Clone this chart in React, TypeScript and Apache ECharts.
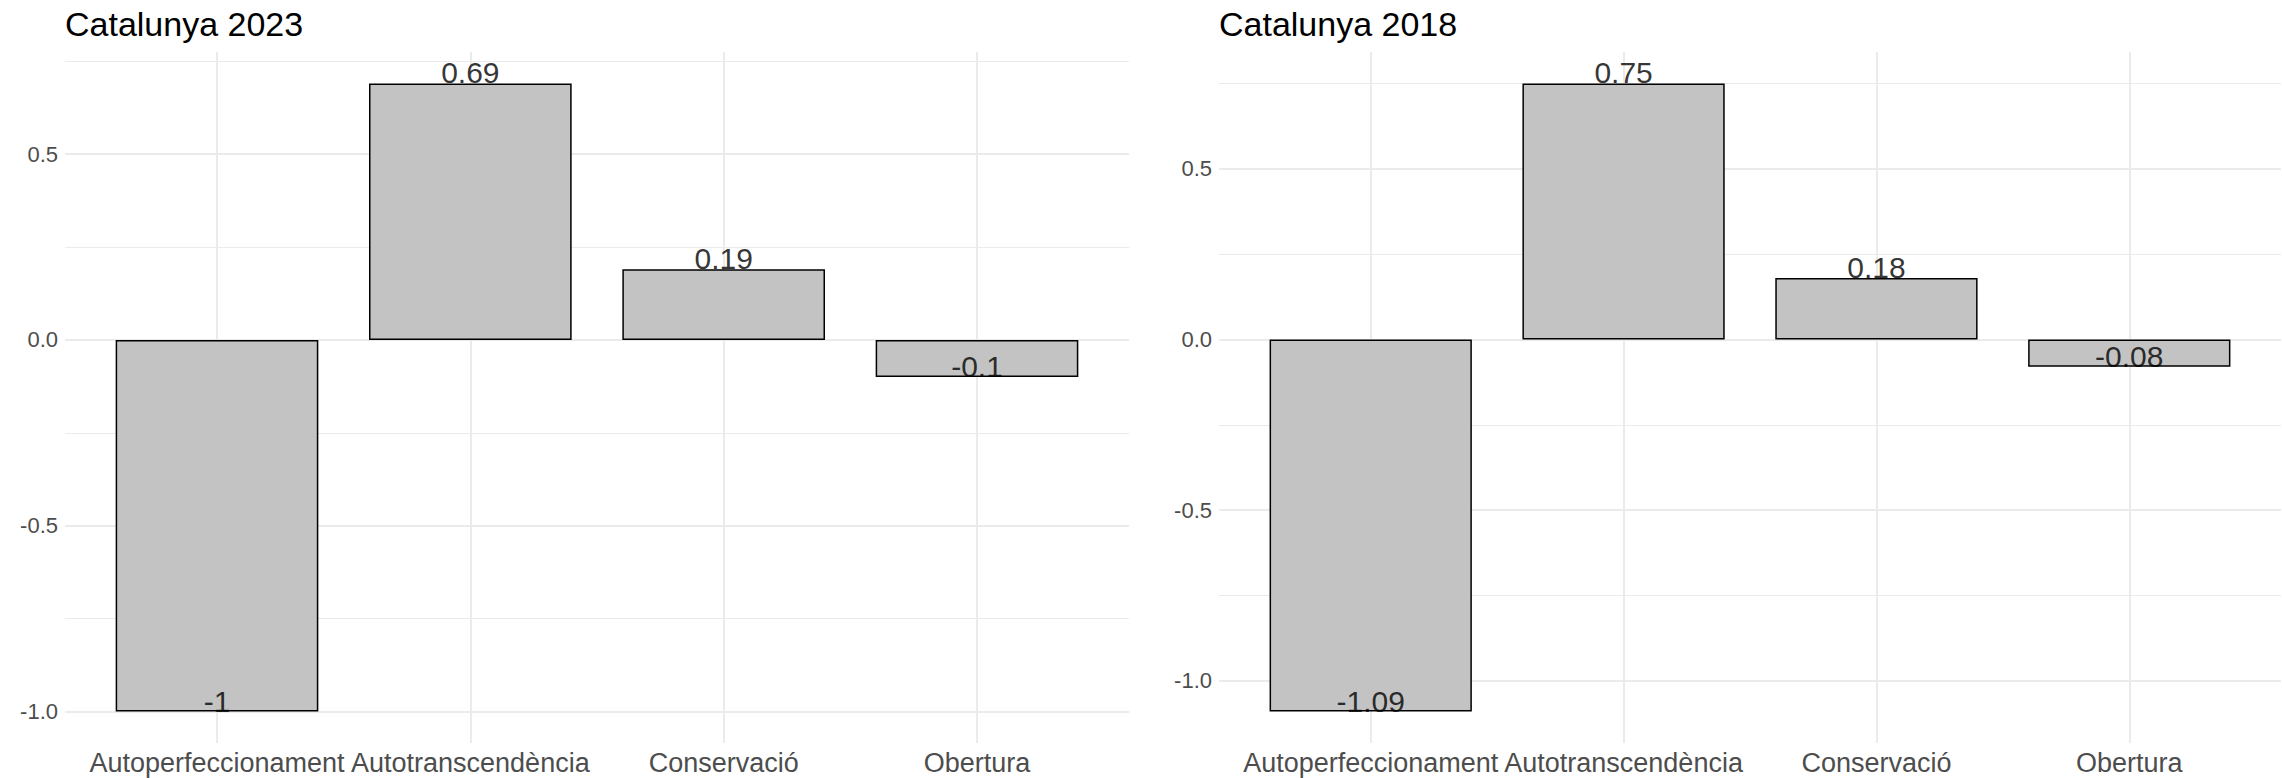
import React, { useEffect, useRef } from "react";
import * as echarts from "echarts";

const categories = ["Autoperfeccionament", "Autotranscendència", "Conservació", "Obertura"];
const values2023 = [-1, 0.69, 0.19, -0.1];
const values2018 = [-1.09, 0.75, 0.18, -0.08];
const panelTitles = ["Catalunya 2023", "Catalunya 2018"];

const FONT = "Liberation Sans, Arial, sans-serif";

function yLimits(vals: number[]) {
  const lo = Math.min(0, ...vals);
  const hi = Math.max(0, ...vals);
  const pad = (hi - lo) * 0.05;
  return [lo - pad, hi + pad];
}

export default function App() {
  const ref = useRef<HTMLDivElement>(null);
  useEffect(() => {
    if (!ref.current) return;
    const chart = echarts.init(ref.current, undefined, { renderer: "svg" });
    const panels = [values2023, values2018];
    const grids = [
      { left: 65, top: 52, width: 1064, height: 691 },
      { left: 1219, top: 52, width: 1062, height: 691 },
    ];
    const xAxis: any[] = [];
    const yAxis: any[] = [];
    const series: any[] = [];
    const title: any[] = [];
    panels.forEach((vals, i) => {
      const [ymin, ymax] = yLimits(vals);
      title.push({
        text: panelTitles[i],
        left: grids[i].left,
        top: 7,
        padding: 0,
        textStyle: { fontFamily: FONT, fontSize: 34, fontWeight: "normal", color: "#000" },
      });
      xAxis.push({
        type: "value",
        gridIndex: i,
        min: -0.6,
        max: categories.length - 1 + 0.6,
        splitNumber: 4,
        axisLine: { show: false },
        axisTick: { show: false },
        axisLabel: {
          showMinLabel: false,
          showMaxLabel: false,
          margin: 6,
          fontFamily: FONT,
          fontSize: 27,
          color: "#4d4d4d",
          formatter: (v: number) => (Number.isInteger(v) && categories[v] !== undefined ? categories[v] : ""),
        },
        splitLine: { show: true, showMinLine: false, showMaxLine: false, lineStyle: { color: "#ebebeb", width: 2 } },
      });
      yAxis.push({
        type: "value",
        gridIndex: i,
        min: ymin,
        max: ymax,
        splitNumber: 4,
        axisLine: { show: false },
        axisTick: { show: false },
        minorTick: { show: false, splitNumber: 2 },
        minorSplitLine: { show: true, lineStyle: { color: "#ebebeb", width: 1 } },
        axisLabel: {
          showMinLabel: false,
          showMaxLabel: false,
          margin: 7,
          fontFamily: FONT,
          fontSize: 22,
          color: "#4d4d4d",
          formatter: (v: number) => v.toFixed(1),
        },
        splitLine: { show: true, showMinLine: false, showMaxLine: false, lineStyle: { color: "#ebebeb", width: 2 } },
      });
      const data = vals.map((v, k) => [k, v]);
      series.push({
        type: "bar",
        xAxisIndex: i,
        yAxisIndex: i,
        data,
        barWidth: "80%",
        itemStyle: { color: "#c3c3c3", borderColor: "#000", borderWidth: 1.5 },
      });
      series.push({
        type: "scatter",
        xAxisIndex: i,
        yAxisIndex: i,
        data,
        symbolSize: 1,
        itemStyle: { color: "rgba(0,0,0,0)" },
        z: 5,
        label: {
          show: true,
          position: "top",
          distance: 0,
          offset: [0, 5],
          fontFamily: FONT,
          fontSize: 30,
          lineHeight: 30,
          color: "#000",
          formatter: (p: any) => String(p.value[1]),
        },
      });
    });
    chart.setOption({
      animation: false,
      backgroundColor: "#ffffff",
      title,
      grid: grids,
      xAxis,
      yAxis,
      series,
    });
    return () => chart.dispose();
  }, []);
  return (
    <div
      ref={ref}
      style={{ position: "fixed", left: 0, top: 0, width: 2282, height: 778, background: "#fff" }}
    />
  );
}
